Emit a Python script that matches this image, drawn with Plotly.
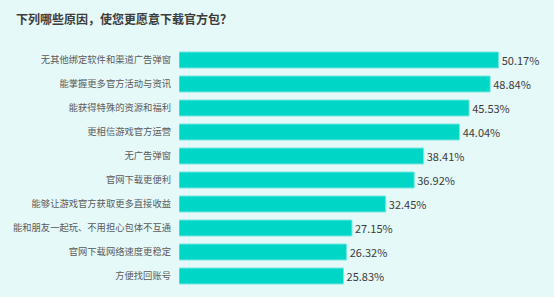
import plotly.graph_objects as go

categories = [
    "无其他绑定软件和渠道广告弹窗",
    "能掌握更多官方活动与资讯",
    "能获得特殊的资源和福利",
    "更相信游戏官方运营",
    "无广告弹窗",
    "官网下载更便利",
    "能够让游戏官方获取更多直接收益",
    "能和朋友一起玩、不用担心包体不互通",
    "官网下载网络速度更稳定",
    "方便找回账号",
]
values = [50.17, 48.84, 45.53, 44.04, 38.41, 36.92, 32.45, 27.15, 26.32, 25.83]
labels = [f"{v:.2f}%" for v in values]

bg = "#e6f9f9"
fig = go.Figure(go.Bar(
    y=categories, x=values, orientation="h",
    marker=dict(color="#00d6c5", line=dict(color="#80e9e1", width=1)),
    text=labels, textposition="outside", cliponaxis=False,
    textfont=dict(family="Noto Sans CJK SC", size=11, color="#3a3a3a"),
    width=0.67,
))
fig.update_layout(
    width=554, height=297,
    margin=dict(l=179, r=0, t=48, b=9),
    paper_bgcolor=bg, plot_bgcolor=bg,
    showlegend=False,
    title=dict(text="<b>下列哪些原因，使您更愿意下载官方包？</b>",
               x=16/554, xanchor="left", y=1-20/297, yanchor="middle",
               font=dict(family="Noto Sans CJK SC", size=12, color="#3c3c3c")),
    xaxis=dict(range=[0, 375/6.372], visible=False, fixedrange=True),
    yaxis=dict(autorange="reversed", showgrid=False, zeroline=False, showline=False,
               ticks="", ticklabelstandoff=7,
               tickfont=dict(family="Noto Sans CJK SC", size=9.3, color="#5a5a5a")),
    bargap=0.33,
)
fig.write_html("out.html")
